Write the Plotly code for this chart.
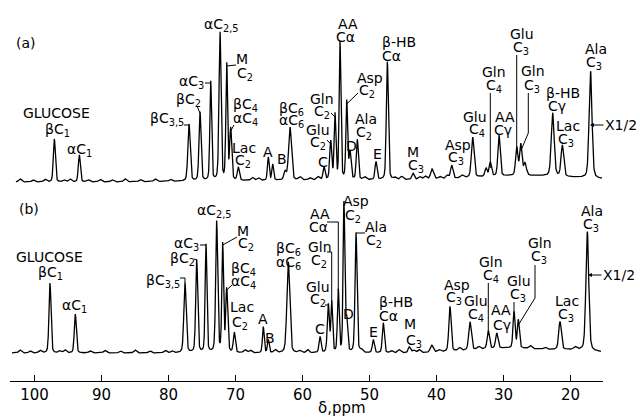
import numpy as np
import plotly.graph_objects as go

# ---------------- data ----------------
# spectrum (a): peak positions (ppm), heights (arb. units) and widths (ppm)
a_names = ['βC1', 'αC1', 'βC3,5', 'βC2', 'αC3', 'αC2,5', 'M C2', 'βC4/αC4', 'Lac C2', 'A',
           'A2', 'B', 'C6', 'C', 'Glu C2', 'Gln C2', 'AA Cα', 'Asp C2', 'D', 'Ala C2',
           'E', 'β-HB Cα', 'M C3', 'x40', 'Asp C3', 'Glu C4', 'x32', 'Gln C4', 'AA Cγ', 'Glu C3',
           'Gln C3', 'x27', 'β-HB Cγ', 'Lac C3', 'Ala C3']
a_ppm = [97.04, 93.31, 76.94, 75.30, 73.70, 72.31, 71.31, 70.72, 69.58, 65.10,
         64.45, 62.6, 61.87, 56.79, 55.79, 55.15, 54.40, 53.40, 52.91, 51.82,
         49.03, 47.34, 43.5, 40.67, 37.73, 34.60, 32.6, 31.97, 30.67, 28.03,
         27.43, 26.8, 22.66, 21.22, 17.01]
a_height = [43, 27, 57, 69, 99, 148, 116, 51, 13, 23,
            16, 8, 53, 13, 38, 65, 137, 78, 27, 40,
            18, 118, 6, 10, 13, 40, 8, 14, 41, 28,
            31, 12, 63, 31, 107]
a_width = [0.35, 0.35, 0.4, 0.35, 0.3, 0.35, 0.3, 0.35, 0.35, 0.3,
           0.3, 0.4, 0.5, 0.35, 0.35, 0.3, 0.3, 0.3, 0.35, 0.35,
           0.35, 0.35, 0.4, 0.5, 0.4, 0.45, 0.4, 0.4, 0.4, 0.4,
           0.4, 0.5, 0.5, 0.45, 0.5]
a_broad_ppm = [26.0, 55.0]
a_broad_height = [6.0, 2.0]
a_broad_width = [22.0, 35.0]
a_ripple_ppm = [102.16, 100.22, 98.43, 95.6, 94.7, 92.0, 90.2, 88.4, 86.5, 84.2, 82.0, 79.7,
                67.5, 66.6, 60.4, 58.9, 57.7, 50.7, 46.2, 45.2, 42.5, 41.7, 39.5, 38.4, 36.2]
a_ripple_height = [3, 2, 2.5, 2, 3, 2, 2.5, 2, 3, 2, 2.5, 2,
                   3, 2.5, 3, 2, 3, 2.5, 2, 3, 2.5, 3, 2, 3, 2.5]

# spectrum (b)
b_names = ['βC1', 'αC1', 'βC3,5', 'βC2', 'αC3', 'αC2,5', 'M C2', 'βC4/αC4', 'Lac C2', 'A',
           'B', 'C6', 'C', 'Glu C2', 'Gln C2', 'AA Cα', 'Asp C2', 'D', 'Ala C2', 'E',
           'β-HB Cα', 'M C3', 'x40', 'Asp C3', 'Glu C4', 'Gln C4', 'AA Cγ', 'Glu C3', 'Gln C3', 'Lac C3',
           'Ala C3']
b_ppm = [97.69, 93.91, 77.54, 75.79, 74.40, 72.81, 71.91, 71.31, 70.18, 65.85,
         65.10, 62.12, 57.39, 56.15, 55.64, 54.66, 53.81, 53.40, 52.01, 49.43,
         47.94, 44.06, 40.72, 37.99, 35.0, 32.27, 31.01, 28.43, 27.79, 21.57,
         17.49]
b_height = [70, 39, 70, 93, 108, 131, 108, 63, 20, 26,
            13, 91, 16, 48, 50, 62, 150, 31, 120, 13,
            30, 6, 7, 45, 28, 18, 15, 36, 28, 28,
            119]
b_width = [0.35, 0.35, 0.4, 0.35, 0.3, 0.35, 0.3, 0.35, 0.35, 0.3,
           0.3, 0.5, 0.35, 0.35, 0.3, 0.3, 0.3, 0.3, 0.35, 0.35,
           0.35, 0.4, 0.5, 0.4, 0.45, 0.4, 0.4, 0.35, 0.35, 0.45,
           0.5]
b_broad_ppm = [29.0, 19.0]
b_broad_height = [5.0, 2.0]
b_broad_width = [14.0, 6.0]
b_ripple_ppm = [102.16, 100.67, 99.18, 96.2, 95.45, 91.7, 89.5, 87.2, 85.0, 82.8, 80.5, 79.5,
                68.6, 67.8, 64.1, 60.4, 59.2, 51.2, 46.7, 45.6, 43.4, 42.6, 39.6, 36.6, 33.7,
                26.0, 23.8, 19.3]
b_ripple_height = [3, 2, 2.5, 2, 3, 2, 2.5, 2, 3, 2, 2.5, 2,
                   3, 2.5, 3, 2, 3, 2.5, 2, 3, 2.5, 3, 2, 3, 2.5,
                   3, 2, 2.5]

tick_values = [100, 90, 80, 70, 60, 50, 40, 30, 20]
x_title = 'δ,ppm'

# ---------------- layout helpers (pixel -> data) ----------------
PX_PER_PPM = 6.70
PLOT_L, PLOT_R, PLOT_H = 10, 603, 381
def px2ppm(xp):
    return 100.0 - (xp - 34.5) / PX_PER_PPM

def py2y(yp):
    return PLOT_H - yp

A_OFFSET = py2y(182)
B_OFFSET = py2y(353)


def spectrum(grid, ppm, h, w, bppm, bh, bw, rppm, rh, offset):
    y = np.full_like(grid, offset, dtype=float)
    eta = 0.3
    for p, hh, ww in zip(ppm, h, w):
        d = grid - p
        lor = 1.0 / (1.0 + (2 * d / ww) ** 2)
        gau = np.exp(-4 * np.log(2) * (d / ww) ** 2)
        y += hh * (eta * lor + (1 - eta) * gau)
    for p, hh, ww in zip(bppm, bh, bw):
        y += hh * np.exp(-4 * np.log(2) * ((grid - p) / ww) ** 2)
    for p, hh in zip(rppm, rh):
        y += hh * np.exp(-4 * np.log(2) * ((grid - p) / 0.5) ** 2)
    return y

grid_a = np.arange(px2ppm(16), px2ppm(602), -0.02)
grid_b = np.arange(px2ppm(12), px2ppm(601), -0.02)
ya = spectrum(grid_a, a_ppm, a_height, a_width, a_broad_ppm, a_broad_height, a_broad_width,
              a_ripple_ppm, a_ripple_height, A_OFFSET)
yb = spectrum(grid_b, b_ppm, b_height, b_width, b_broad_ppm, b_broad_height, b_broad_width,
              b_ripple_ppm, b_ripple_height, B_OFFSET)

fig = go.Figure()
fig.add_trace(go.Scatter(x=grid_a, y=ya, mode='lines', line=dict(color='black', width=1.3),
                         hoverinfo='skip', showlegend=False))
fig.add_trace(go.Scatter(x=grid_b, y=yb, mode='lines', line=dict(color='black', width=1.3),
                         hoverinfo='skip', showlegend=False))

# leader lines: bend points (px) then the peak top
leaders = [
    ('a', 'βC3,5', [(184, 125)]),
    ('a', 'βC2', [(197, 106)]),
    ('a', 'αC3', [(205, 83)]),
    ('a', 'M C2', [(236, 65)]),
    ('a', 'βC4/αC4', [(234, 125)]),
    ('a', 'Gln C2', [(331, 113)]),
    ('a', 'Glu C2', [(327, 140)]),
    ('a', 'Asp C2', [(358, 93)]),
    ('a', 'Gln C4', [(490.3, 93)]),
    ('a', 'Glu C3', [(516.7, 55)]),
    ('a', 'Gln C3', [(528.3, 93), (528.3, 133)]),
    ('b', 'βC3,5', [(180, 278), (185, 278)]),
    ('b', 'βC2', [(194, 259)]),
    ('b', 'αC3', [(200, 245)]),
    ('b', 'M C2', [(237, 237)]),
    ('b', 'βC4/αC4', [(232, 285)]),
    ('b', 'Glu C2', [(325, 305)]),
    ('b', 'Gln C2', [(327, 252), (331.7, 252)]),
    ('b', 'AA Cα', [(327, 222), (338.3, 222)]),
    ('b', 'Ala C2', [(365, 233), (356, 233)]),
    ('b', 'Gln C4', [(488.3, 283)]),
    ('b', 'Glu C3', [(514, 302)]),
    ('b', 'Gln C3', [(535, 265), (535, 298)]),
]
for spec, name, bends in leaders:
    if spec == 'a':
        i = a_names.index(name)
        px_, top = a_ppm[i], A_OFFSET + a_height[i]
    else:
        i = b_names.index(name)
        px_, top = b_ppm[i], B_OFFSET + b_height[i]
    xs = [px2ppm(bx) for bx, by in bends] + [px_]
    ys = [py2y(by) for bx, by in bends] + [top]
    fig.add_trace(go.Scatter(x=xs, y=ys, mode='lines', line=dict(color='black', width=1),
                             hoverinfo='skip', showlegend=False))

FAM = 'DejaVu Sans, Liberation Sans, Arial, sans-serif'
FONT = dict(family=FAM, size=14, color='black')
TFONT = dict(family=FAM, size=15, color='black')
labels = [
    ("(a)", 26, 43), ("GLUCOSE", 56, 113), ("βC<sub>1</sub>", 57, 130),
    ("αC<sub>1</sub>", 79, 150), ("βC<sub>3,5</sub>", 167, 119), ("βC<sub>2</sub>", 188, 100),
    ("αC<sub>3</sub>", 191, 82), ("αC<sub>2,5</sub>", 221, 25),
    ("M", 242, 59), ("C<sub>2</sub>", 245, 74),
    ("βC<sub>4</sub>", 245, 105), ("αC<sub>4</sub>", 245, 119),
    ("Lac", 244, 148), ("C<sub>2</sub>", 243, 161),
    ("A", 268, 152), ("B", 282, 159),
    ("βC<sub>6</sub>", 291, 109), ("αC<sub>6</sub>", 291, 121),
    ("Gln", 322, 99), ("C<sub>2</sub>", 322, 112),
    ("Glu", 318, 130), ("C<sub>2</sub>", 318, 143), ("C", 323, 162),
    ("AA", 348, 24), ("Cα", 345, 37),
    ("Asp", 370, 78), ("C<sub>2</sub>", 367, 91), ("D", 351, 146),
    ("Ala", 366, 119), ("C<sub>2</sub>", 364, 133), ("E", 377, 154),
    ("β-HB", 399, 42), ("Cα", 391, 56),
    ("M", 413, 152), ("C<sub>3</sub>", 416, 166),
    ("Asp", 458, 145), ("C<sub>3</sub>", 456, 158),
    ("Glu", 475, 117), ("C<sub>4</sub>", 477, 130),
    ("Gln", 494, 72), ("C<sub>4</sub>", 494, 86),
    ("AA", 505, 117), ("Cγ", 503, 130),
    ("Glu", 522, 34), ("C<sub>3</sub>", 521, 48),
    ("Gln", 533, 71), ("C<sub>3</sub>", 532, 86),
    ("β-HB", 563, 93), ("Cγ", 557, 106),
    ("Lac", 568, 126), ("C<sub>3</sub>", 566, 140),
    ("Ala", 596, 49), ("C<sub>3</sub>", 594, 63),
    # (b)
    ("(b)", 29, 209), ("GLUCOSE", 49, 257), ("βC<sub>1</sub>", 50, 273),
    ("αC<sub>1</sub>", 74, 306), ("βC<sub>3,5</sub>", 163, 281), ("βC<sub>2</sub>", 182, 259),
    ("αC<sub>3</sub>", 186, 244), ("αC<sub>2,5</sub>", 214, 211),
    ("M", 243, 231), ("C<sub>2</sub>", 246, 244),
    ("βC<sub>4</sub>", 243, 269), ("αC<sub>4</sub>", 243, 282),
    ("Lac", 242, 307), ("C<sub>2</sub>", 240, 323),
    ("A", 263, 319), ("B", 270, 338),
    ("βC<sub>6</sub>", 288, 249), ("αC<sub>6</sub>", 288, 263),
    ("C", 320, 329), ("Glu", 318, 287), ("C<sub>2</sub>", 318, 300),
    ("Gln", 320, 247), ("C<sub>2</sub>", 319, 261),
    ("AA", 320, 214), ("Cα", 318, 227),
    ("Asp", 356, 201), ("C<sub>2</sub>", 353, 216), ("D", 348, 314),
    ("Ala", 376, 227), ("C<sub>2</sub>", 374, 241), ("E", 373, 332),
    ("β-HB", 396, 302), ("Cα", 388, 316),
    ("M", 410, 324), ("C<sub>3</sub>", 414, 341),
    ("Asp", 457, 285), ("C<sub>3</sub>", 454, 298),
    ("Glu", 476, 301), ("C<sub>4</sub>", 476, 315),
    ("Gln", 491, 262), ("C<sub>4</sub>", 491, 276),
    ("AA", 501, 310), ("Cγ", 502, 325),
    ("Glu", 519, 281), ("C<sub>3</sub>", 518, 295),
    ("Gln", 540, 243), ("C<sub>3</sub>", 539, 257),
    ("Lac", 567, 301), ("C<sub>3</sub>", 566, 315),
    ("Ala", 592, 211), ("C<sub>3</sub>", 591, 225),
]
annotations = []
for text, cx, cy in labels:
    annotations.append(dict(x=px2ppm(cx), y=py2y(cy), text=text, showarrow=False,
                            xanchor='center', yanchor='middle', font=FONT))
# x1/2 markers
for tip_x, tip_y in [(590, 125), (588, 275)]:
    annotations.append(dict(x=px2ppm(tip_x), y=py2y(tip_y), text='X1/2', showarrow=True,
                            ax=31, ay=0, arrowhead=2, arrowsize=0.8, arrowwidth=1,
                            arrowcolor='black', font=FONT, xanchor='center', yanchor='middle'))
# axis title (paper coordinates, below the axis)
annotations.append(dict(xref='paper', yref='paper',
                        x=(342 - PLOT_L) / (PLOT_R - PLOT_L), y=(PLOT_H - 408) / PLOT_H,
                        text=x_title, showarrow=False,
                        xanchor='center', yanchor='middle', font=TFONT))

fig.update_layout(
    width=640, height=418,
    margin=dict(l=PLOT_L, r=640 - PLOT_R, t=0, b=418 - PLOT_H),
    paper_bgcolor='white', plot_bgcolor='white',
    showlegend=False,
    annotations=annotations,
    xaxis=dict(range=[px2ppm(PLOT_L), px2ppm(PLOT_R)], tickvals=tick_values,
               ticks='inside', ticklen=6, tickwidth=1.3, tickcolor='black',
               showline=True, linecolor='black', linewidth=1.3,
               showgrid=False, zeroline=False,
               tickfont=TFONT),
    yaxis=dict(range=[0, PLOT_H], visible=False, showgrid=False, zeroline=False),
)

fig.write_html("out.html", config={'displayModeBar': False},
               post_script="document.body.style.margin='0px';")
